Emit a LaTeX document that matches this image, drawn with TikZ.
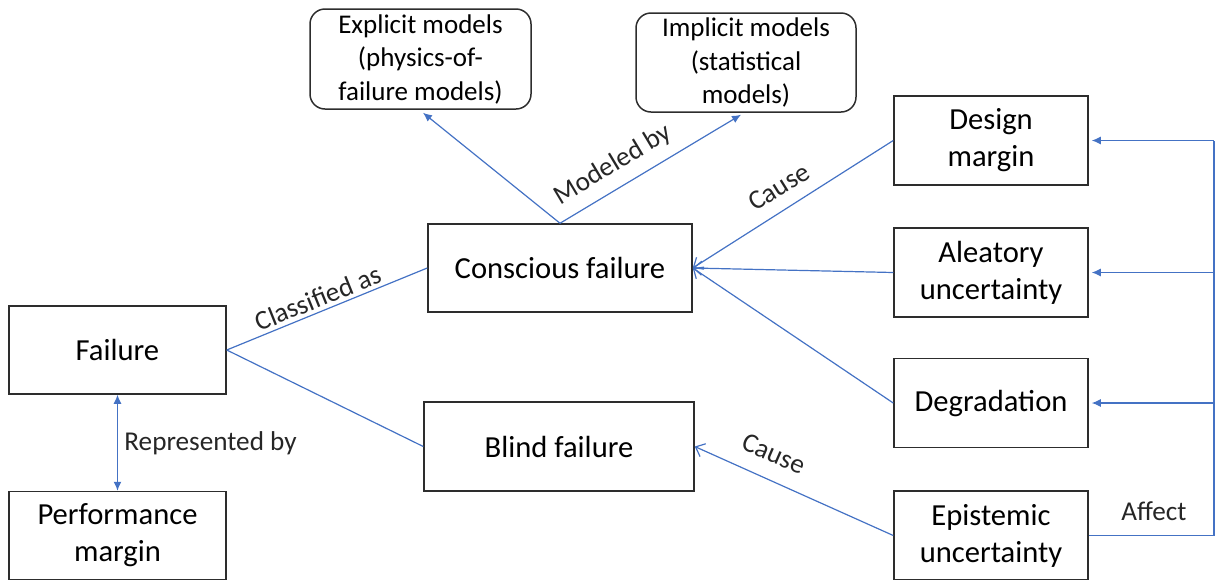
\documentclass[tikz,border=0pt]{standalone}
\usepackage{fontspec}
\setmainfont{Carlito}
\usetikzlibrary{arrows.meta,calc}
\definecolor{lnblue}{RGB}{68,114,196}
\definecolor{bdr}{RGB}{45,45,45}
\begin{document}
\begin{tikzpicture}[x=0.5pt,y=-0.5pt,
 box/.style={draw=bdr,line width=0.75pt,rectangle,align=center,inner sep=0pt,font=\fontsize{15.3}{18.5}\selectfont},
 rbox/.style={box,rounded corners=7.5pt,font=\fontsize{13.5}{16.75}\selectfont},
 lbl/.style={font=\fontsize{13.6}{16}\selectfont,inner sep=0pt,text=black!85},
 conn/.style={draw=lnblue,line width=0.6pt},
 openarr/.style={conn,-{Straight Barb[length=4pt,width=7pt]}},
 fillarr/.style={conn,-{Latex[length=4.5pt,width=4pt]}},
]
\useasboundingbox (0,0) rectangle (1215,579);

\node[box,minimum width=108.5pt,minimum height=44pt] (failure) at (117.5,350) {Failure};
\node[box,minimum width=108.5pt,minimum height=44pt] (perf) at (117.5,535.5) {Performance\\margin};
\node[box,minimum width=132pt,minimum height=44pt] (conscious) at (560,268) {Conscious failure};
\node[box,minimum width=135pt,minimum height=44.5pt] (blind) at (559,446.5) {Blind failure};
\node[rbox,minimum width=110.5pt,minimum height=50pt] (explicit) at (420.5,59) {Explicit models\\(physics-of-\\failure models)};
\node[rbox,minimum width=110pt,minimum height=49.5pt] (implicit) at (746,62.5) {Implicit models\\(statistical\\models)};
\node[box,minimum width=97pt,minimum height=44.5pt] (design) at (991,140.5) {Design\\margin};
\node[box,minimum width=97pt,minimum height=44.5pt] (aleatory) at (991,272.5) {Aleatory\\uncertainty};
\node[box,minimum width=97pt,minimum height=44.5pt] (degradation) at (991,403) {Degradation};
\node[box,minimum width=97pt,minimum height=44.5pt] (epistemic) at (991,535.5) {Epistemic\\uncertainty};

\draw[conn] (failure.east) -- (conscious.west);
\draw[conn] (failure.east) -- (blind.west);
\draw[fillarr] (conscious.north) -- ($(explicit.south)+(2.5,3)$);
\draw[fillarr] (conscious.north) -- ($(implicit.south)+(-5,2)$);
\draw[openarr] (design.west) -- (conscious.east);
\draw[openarr] (aleatory.west) -- (conscious.east);
\draw[openarr] (degradation.west) -- (conscious.east);
\draw[openarr] (epistemic.west) -- (blind.east);
\draw[conn,{Latex[length=4.5pt,width=4pt]}-{Latex[length=4.5pt,width=4pt]}] (failure.south) -- (perf.north);

\coordinate (rt) at ($(design.east)+(125,0)$);
\draw[conn,line width=0.9pt] (epistemic.east) -| (rt);
\draw[fillarr] (rt) -- ($(design.east)+(3,0)$);
\draw[fillarr] (rt |- aleatory.east) -- ($(aleatory.east)+(3,0)$);
\draw[fillarr] (rt |- degradation.east) -- ($(degradation.east)+(3,0)$);

\node[lbl,rotate=22] (lcls) at (318,298) {Classified as};
\node[lbl,rotate=31] (lmod) at (613,165) {Modeled by};
\node[lbl,rotate=32] (lcause1) at (779,187) {Cause};
\node[lbl,rotate=-23.5] (lcause2) at (774,454) {Cause};
\node[lbl,anchor=west] (lrep) at (124,443) {Represented by};
\node[lbl] (laff) at (1154,511) {Affect};
\end{tikzpicture}
\end{document}
